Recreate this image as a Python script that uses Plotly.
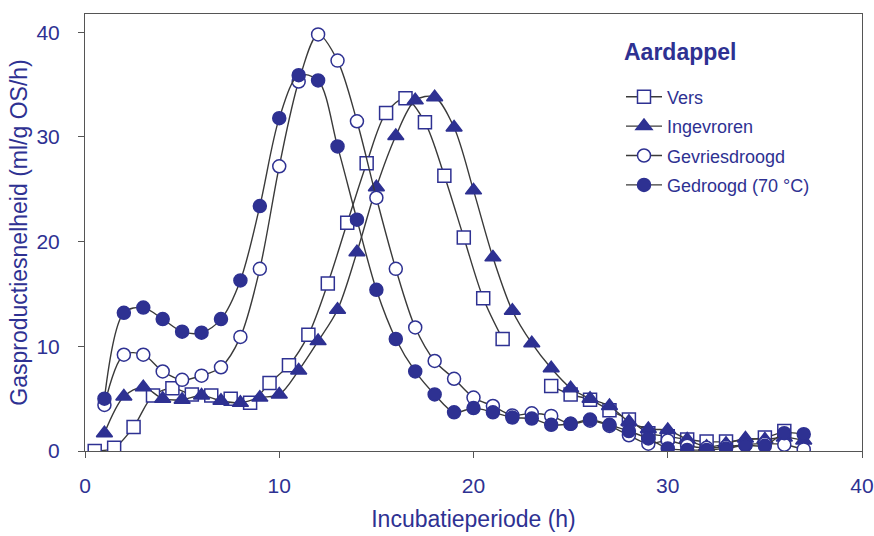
import plotly.graph_objects as go

# Gas production rate of potato samples (ml/g OS/h) per incubation hour
vers_x = [0.5, 1.5, 2.5, 3.5, 4.5, 5.5, 6.5, 7.5, 8.5, 9.5, 10.5, 11.5, 12.5, 13.5,
          14.5, 15.5, 16.5, 17.5, 18.5, 19.5, 20.5, 21.5, None,
          24, 25, 26, 27, 28, 29, 30, 31, 32, 33, 35, 36]
vers_y = [0.0, 0.3, 2.3, 5.3, 6.0, 5.4, 5.3, 5.0, 4.6, 6.5, 8.2, 11.1, 16.0, 21.8,
          27.5, 32.3, 33.7, 31.4, 26.3, 20.4, 14.6, 10.7, None,
          6.2, 5.4, 4.9, 3.9, 3.0, 1.7, 1.4, 1.1, 0.9, 0.9, 1.3, 1.9]

hours = list(range(1, 38))
ingevroren_y = [1.7, 5.2, 6.1, 5.0, 4.9, 5.3, 4.8, 4.6, 5.1, 5.4, 7.7, 10.5, 13.5,
                19.0, 25.2, 30.1, 33.5, 33.8, 30.9, 24.9, 18.5, 13.4, 10.3, 7.9,
                6.0, 5.0, 4.3, 2.8, 2.1, 2.0, 1.1, 0.4, 0.7, 1.2, 1.1, 1.3, 1.0]
gevriesdroogd_y = [4.4, 9.2, 9.2, 7.6, 6.8, 7.2, 8.0, 10.9, 17.4, 27.2, 35.3, 39.8,
                   37.3, 31.5, 24.2, 17.4, 11.8, 8.6, 6.9, 5.1, 4.3, 3.4, 3.6, 3.35,
                   2.6, 2.9, 2.4, 1.5, 0.7, 1.0, 0.5, 0.3, 0.4, 0.6, 0.7, 0.6, 0.15]
gedroogd_y = [5.0, 13.2, 13.7, 12.6, 11.4, 11.3, 12.6, 16.3, 23.4, 31.8, 35.9, 35.4,
              29.1, 22.1, 15.4, 10.7, 7.6, 5.4, 3.7, 4.1, 3.7, 3.2, 3.1, 2.5, 2.6,
              3.0, 2.5, 1.9, 1.2, 0.25, 0.1, 0.1, 0.25, 0.55, 0.5, 1.7, 1.6]

x_ticks = [0, 10, 20, 30, 40]
y_ticks = [0, 10, 20, 30, 40]

NAVY = "#2E3192"
LINE = "#3a3a3a"
AXIS = "#555555"
FONT = "Liberation Sans, Arial, sans-serif"

series = [
    ("Vers", vers_x, vers_y, "square", "white", 13),
    ("Ingevroren", hours, ingevroren_y, "triangle-up", NAVY, 14),
    ("Gevriesdroogd", hours, gevriesdroogd_y, "circle", "white", 13),
    ("Gedroogd (70 \u00b0C)", hours, gedroogd_y, "circle", NAVY, 13),
]

fig = go.Figure()
for i, (name, xs, ys, sym, fill, size) in enumerate(series):
    fig.add_trace(go.Scatter(
        x=xs, y=ys, name=name, mode="lines+markers",
        connectgaps=False,
        line=dict(color=LINE, width=1.4, shape="spline", smoothing=0.9),
        marker=dict(symbol=sym, size=size, color=fill,
                    line=dict(color=NAVY, width=1.5)),
        legendgroup=f"g{i}",
    ))

# plot area edges in pixels
plot_l, plot_r, plot_t, plot_b = 85, 862, 14, 451
W, H = 874, 536


def px_x(px):
    return (px - plot_l) / (plot_r - plot_l)


def px_y(py):
    return (plot_b - py) / (plot_b - plot_t)


fig.add_annotation(
    x=px_x(622), y=px_y(52), xref="paper", yref="paper", text="<b>Aardappel</b>",
    showarrow=False, font=dict(family=FONT, size=23, color=NAVY),
    xanchor="left", yanchor="middle",
)

fig.update_layout(
    width=W, height=H,
    margin=dict(l=plot_l, r=W - plot_r, t=plot_t, b=H - plot_b),
    paper_bgcolor="white", plot_bgcolor="white",
    font=dict(family=FONT, color=NAVY),
    showlegend=True,
    legend=dict(
        x=px_x(621), y=px_y(78.5),
        xanchor="left", yanchor="top",
        font=dict(family=FONT, size=18, color=NAVY),
        bgcolor="rgba(0,0,0,0)", tracegroupgap=3,
        itemwidth=36,
    ),
    xaxis=dict(
        range=[0, 40], tickvals=x_ticks, ticktext=[str(v) for v in x_ticks],
        showgrid=False, zeroline=False, showline=True, linecolor=AXIS,
        linewidth=1, mirror=True, ticks="outside", ticklen=6, tickcolor=AXIS,
        ticklabelstandoff=10, automargin=False,
        tickfont=dict(family=FONT, size=21, color=NAVY),
        title=dict(text="Incubatieperiode (h)", font=dict(family=FONT, size=23, color=NAVY),
                   standoff=14),
    ),
    yaxis=dict(
        range=[0, 41.75], tickvals=y_ticks, ticktext=[str(v) for v in y_ticks],
        showgrid=False, zeroline=False, showline=True, linecolor=AXIS,
        linewidth=1, mirror=True, ticks="outside", ticklen=6, tickcolor=AXIS,
        ticklabelstandoff=14, automargin=False,
        tickfont=dict(family=FONT, size=21, color=NAVY),
        title=dict(text="Gasproductiesnelheid (ml/g OS/h)",
                   font=dict(family=FONT, size=23, color=NAVY), standoff=2),
    ),
)

fig.write_html("out.html")
